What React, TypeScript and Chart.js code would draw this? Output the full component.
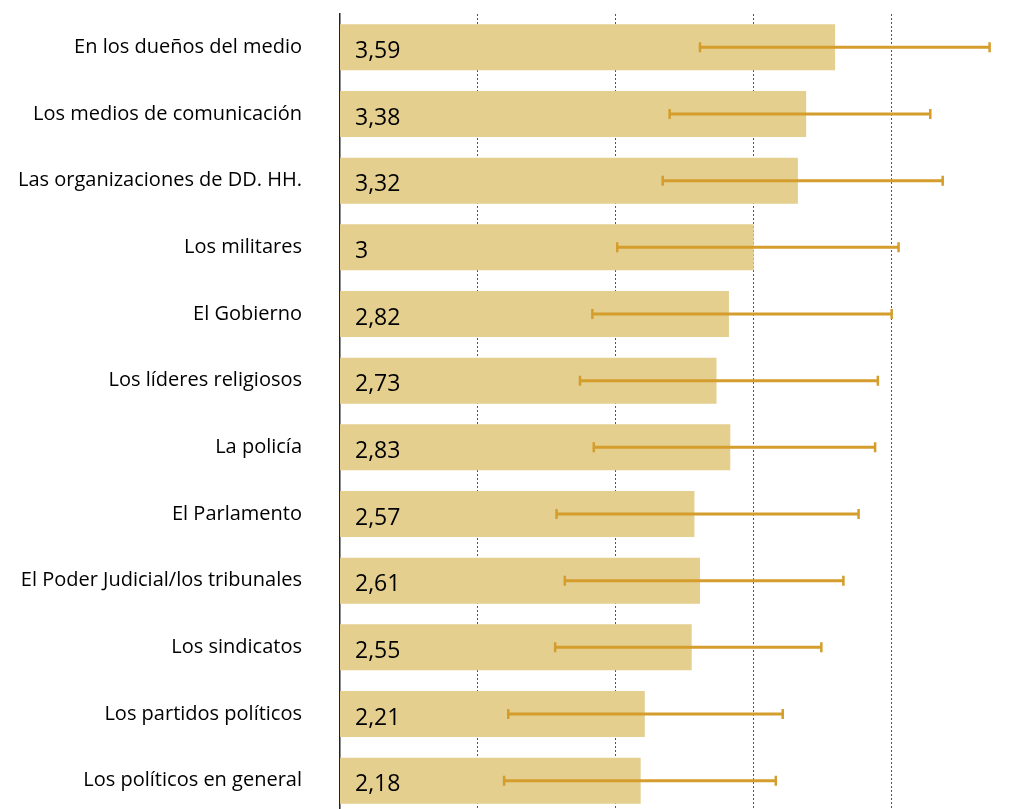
import React, { useEffect, useRef } from "react";
import { Chart, registerables } from "chart.js";

Chart.register(...registerables);

const categories = [
  "En los dueños del medio",
  "Los medios de comunicación",
  "Las organizaciones de DD. HH.",
  "Los militares",
  "El Gobierno",
  "Los líderes religiosos",
  "La policía",
  "El Parlamento",
  "El Poder Judicial/los tribunales",
  "Los sindicatos",
  "Los partidos políticos",
  "Los políticos en general",
];
const means = [3.59, 3.38, 3.32, 3, 2.82, 2.73, 2.83, 2.57, 2.61, 2.55, 2.21, 2.18];
const errLow = [2.61, 2.39, 2.34, 2.01, 1.83, 1.74, 1.84, 1.57, 1.63, 1.56, 1.22, 1.19];
const errHigh = [4.71, 4.28, 4.37, 4.05, 4.0, 3.9, 3.88, 3.76, 3.65, 3.49, 3.21, 3.16];
const gridTicks = [1, 2, 3, 4];

const FONT = "'Open Sans', 'Noto Sans', sans-serif";

const overlayPlugin = {
  id: "overlay",
  afterDatasetsDraw(chart: any) {
    const ctx = chart.ctx;
    const xs = chart.scales.x;
    const meta = chart.getDatasetMeta(0);
    ctx.save();
    meta.data.forEach((bar: any, i: number) => {
      const y = bar.y;
      // value label
      ctx.fillStyle = "#000";
      ctx.font = `500 23px ${FONT}`;
      ctx.textAlign = "left";
      ctx.textBaseline = "middle";
      ctx.fillText(String(means[i]).replace(".", ","), xs.getPixelForValue(0) + 15, y + 4);
      // error bar
      const x1 = xs.getPixelForValue(errLow[i]);
      const x2 = xs.getPixelForValue(errHigh[i]);
      ctx.strokeStyle = "#D49D2C";
      ctx.lineWidth = 3;
      ctx.beginPath();
      ctx.moveTo(x1, y);
      ctx.lineTo(x2, y);
      ctx.stroke();
      ctx.lineWidth = 2.5;
      ctx.beginPath();
      ctx.moveTo(x1, y - 5);
      ctx.lineTo(x1, y + 5);
      ctx.moveTo(x2, y - 5);
      ctx.lineTo(x2, y + 5);
      ctx.stroke();
    });
    ctx.restore();
  },
};

export default function App() {
  const ref = useRef<HTMLCanvasElement | null>(null);
  useEffect(() => {
    document.documentElement.style.overflow = "hidden";
    const chart = new Chart(ref.current as HTMLCanvasElement, {
      type: "bar",
      data: {
        labels: categories,
        datasets: [
          {
            data: means,
            backgroundColor: "#E4CF8F",
            borderWidth: 0,
            categoryPercentage: 1,
            barPercentage: 0.69,
          },
        ],
      },
      options: {
        indexAxis: "y",
        responsive: false,
        animation: false,
        layout: { padding: { top: 6, right: 5, bottom: 0, left: 0 } },
        plugins: { legend: { display: false }, tooltip: { enabled: false } },
        scales: {
          x: {
            min: 0,
            max: 4.8,
            afterBuildTicks: (s: any) => {
              s.ticks = gridTicks.map((v) => ({ value: v }));
            },
            afterFit: (s: any) => {
              s.height = 0;
              s.paddingLeft = 0;
              s.paddingRight = 0;
            },
            ticks: { display: false },
            grid: { color: "#555", lineWidth: 1, drawTicks: false },
            border: { display: false, dash: [2, 2] },
          },
          y: {
            afterFit: (s: any) => {
              s.width = 332;
              s.paddingTop = 0;
              s.paddingBottom = 0;
            },
            ticks: {
              padding: 38,
              color: "#000",
              font: { family: FONT, size: 20 },
            },
            grid: { display: false, drawTicks: false },
            border: { display: true, color: "#222", width: 1.5 },
          },
        },
      },
      plugins: [overlayPlugin],
    });
    return () => chart.destroy();
  }, []);
  return <canvas ref={ref} width={999} height={806} />;
}
